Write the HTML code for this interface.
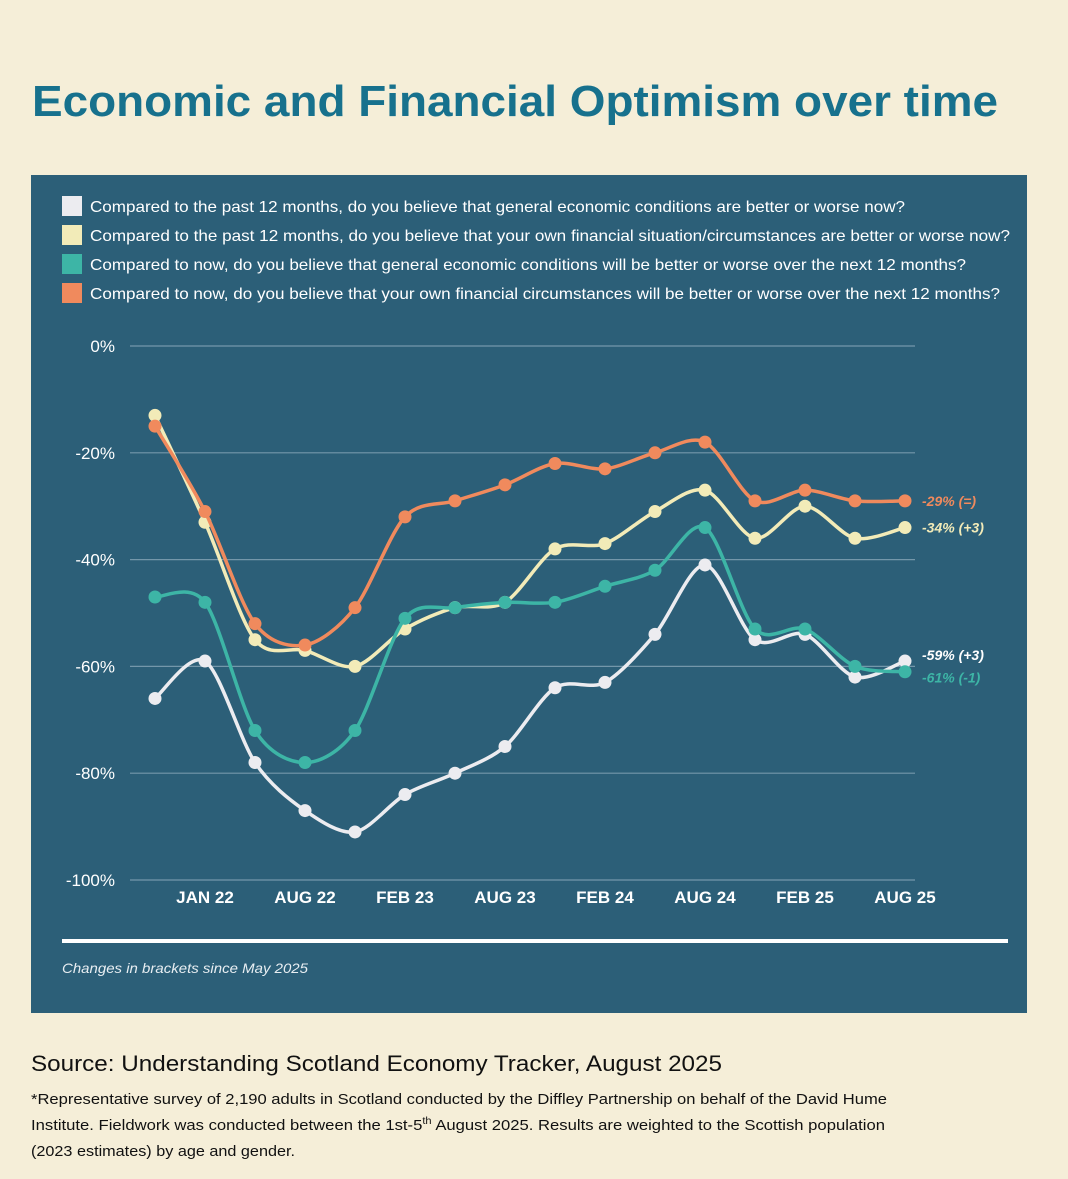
<!DOCTYPE html>
<html><head><meta charset="utf-8"><style>
html,body{margin:0;padding:0;background:#f5eed8;}
svg{display:block;}
</style></head><body>
<svg width="1068" height="1179" viewBox="0 0 1068 1179" xmlns="http://www.w3.org/2000/svg" font-family="Liberation Sans, sans-serif">
<rect x="0" y="0" width="1068" height="1179" fill="#f5eed8"/>
<text x="32" y="116" font-size="44" font-weight="bold" fill="#17718d" textLength="966" lengthAdjust="spacingAndGlyphs">Economic and Financial Optimism over time</text>
<rect x="31" y="175" width="996" height="838" fill="#2c5f78"/>
<g font-size="16" fill="#ffffff">
 <rect x="62" y="196" width="20" height="20" fill="#ececf0"/>
 <text x="90" y="212" textLength="815" lengthAdjust="spacingAndGlyphs">Compared to the past 12 months, do you believe that general economic conditions are better or worse now?</text>
 <rect x="62" y="225" width="20" height="20" fill="#f2ebb8"/>
 <text x="90" y="241" textLength="920" lengthAdjust="spacingAndGlyphs">Compared to the past 12 months, do you believe that your own financial situation/circumstances are better or worse now?</text>
 <rect x="62" y="254" width="20" height="20" fill="#3db5a6"/>
 <text x="90" y="270" textLength="876" lengthAdjust="spacingAndGlyphs">Compared to now, do you believe that general economic conditions will be better or worse over the next 12 months?</text>
 <rect x="62" y="283" width="20" height="20" fill="#f08a5d"/>
 <text x="90" y="299" textLength="910" lengthAdjust="spacingAndGlyphs">Compared to now, do you believe that your own financial circumstances will be better or worse over the next 12 months?</text>
</g>
<g id="grid"></g>
<g id="axes"></g>
<g id="series"></g>
<g id="endlabels"></g>
<rect x="62" y="939" width="946" height="4" fill="#ffffff"/>
<text x="62" y="973" font-size="14" font-style="italic" fill="#e8eef2" textLength="246" lengthAdjust="spacingAndGlyphs">Changes in brackets since May 2025</text>
<text x="31" y="1071" font-size="22" fill="#111" textLength="691" lengthAdjust="spacingAndGlyphs">Source: Understanding Scotland Economy Tracker, August 2025</text>
<g font-size="15" fill="#111">
 <text x="31" y="1104" textLength="856" lengthAdjust="spacingAndGlyphs">*Representative survey of 2,190 adults in Scotland conducted by the Diffley Partnership on behalf of the David Hume</text>
 <text x="31" y="1130" textLength="854" lengthAdjust="spacingAndGlyphs">Institute. Fieldwork was conducted between the 1st-5<tspan font-size="10" dy="-6">th</tspan><tspan dy="6"> August 2025. Results are weighted to the Scottish population</tspan></text>
 <text x="31" y="1156" textLength="264" lengthAdjust="spacingAndGlyphs">(2023 estimates) by age and gender.</text>
</g>
</svg>
<script>
const periods = ["Jul 21","Jan 22","Apr 22","Aug 22","Nov 22","Feb 23","May 23","Aug 23","Nov 23","Feb 24","May 24","Aug 24","Nov 24","Feb 25","May 25","Aug 25"];
const xTickLabels = ["JAN 22","AUG 22","FEB 23","AUG 23","FEB 24","AUG 24","FEB 25","AUG 25"];
const xTickIndex = [1,3,5,7,9,11,13,15];
const yTicks = [0,-20,-40,-60,-80,-100];
const econPast = [-66,-59,-78,-87,-91,-84,-80,-75,-64,-63,-54,-41,-55,-54,-62,-59];
const ownPast = [-13,-33,-55,-57,-60,-53,-49,-48,-38,-37,-31,-27,-36,-30,-36,-34];
const econFuture = [-47,-48,-72,-78,-72,-51,-49,-48,-48,-45,-42,-34,-53,-53,-60,-61];
const ownFuture = [-15,-31,-52,-56,-49,-32,-29,-26,-22,-23,-20,-18,-29,-27,-29,-29];
const endLabels = ["-59% (+3)","-34% (+3)","-61% (-1)","-29% (=)"];

const NS="http://www.w3.org/2000/svg";
const xs = i => 155 + i*50;
const ys = v => 346 - v*5.34;
function mk(tag, attrs, parent){const e=document.createElementNS(NS,tag);for(const k in attrs)e.setAttribute(k,attrs[k]);parent.appendChild(e);return e;}
const grid=document.getElementById('grid'), axes=document.getElementById('axes'), ser=document.getElementById('series'), el=document.getElementById('endlabels');
yTicks.forEach(t=>{
  const l=mk('line',{x1:130,x2:915,y1:ys(t),y2:ys(t),stroke:'#7497aa','stroke-width':1.2},grid);
  
  
  const tx=mk('text',{x:115,y:ys(t)+6,'text-anchor':'end','font-size':17,fill:'#fff'},axes);
  tx.textContent=t+'%';
  
  
});
xTickLabels.forEach((lab,j)=>{
  const tx=mk('text',{x:xs(xTickIndex[j]),y:903,'text-anchor':'middle','font-size':17,'font-weight':'bold',fill:'#fff'},axes);
  tx.textContent=lab;
  
  
});
function path(vals){
  const p=vals.map((v,i)=>[xs(i),ys(v)]);
  let d='M'+p[0][0]+','+p[0][1];
  const t=0.15;
  for(let i=0;i<p.length-1;i++){
    const p0=p[i-1]||p[i], p1=p[i], p2=p[i+1], p3=p[i+2]||p2;
    const c1=[p1[0]+(p2[0]-p0[0])*t, p1[1]+(p2[1]-p0[1])*t];
    const c2=[p2[0]-(p3[0]-p1[0])*t, p2[1]-(p3[1]-p1[1])*t];
    d+=' C'+c1+' '+c2+' '+p2;
  }
  return d;
}
const seriesList=[[econPast,'#ececf0','econ-past'],[ownPast,'#f2ebb8','own-past'],[econFuture,'#3db5a6','econ-future'],[ownFuture,'#f08a5d','own-future']];
const labelColors=['#ffffff','#f2ebb8','#3db5a6','#f08a5d'];
seriesList.forEach(([vals,col,name],k)=>{
  const g=mk('g',{},ser);
  
  
  const pa=mk('path',{d:path(vals),fill:'none',stroke:col,'stroke-width':3.5},g);
  
  
  vals.forEach((v,i)=>{
    const c=mk('circle',{cx:xs(i),cy:ys(v),r:6.5,fill:col},g);
    
    
  });
  let ly=ys(vals[vals.length-1])+5;
  if(name==='econ-past') ly-=6;
  if(name==='econ-future') ly+=6;
  const tx=mk('text',{x:922,y:ly,'font-size':14,'font-weight':'bold','font-style':'italic',fill:labelColors[k]},el);
  tx.textContent=endLabels[k];
  
  
});
</script>
</body></html>
